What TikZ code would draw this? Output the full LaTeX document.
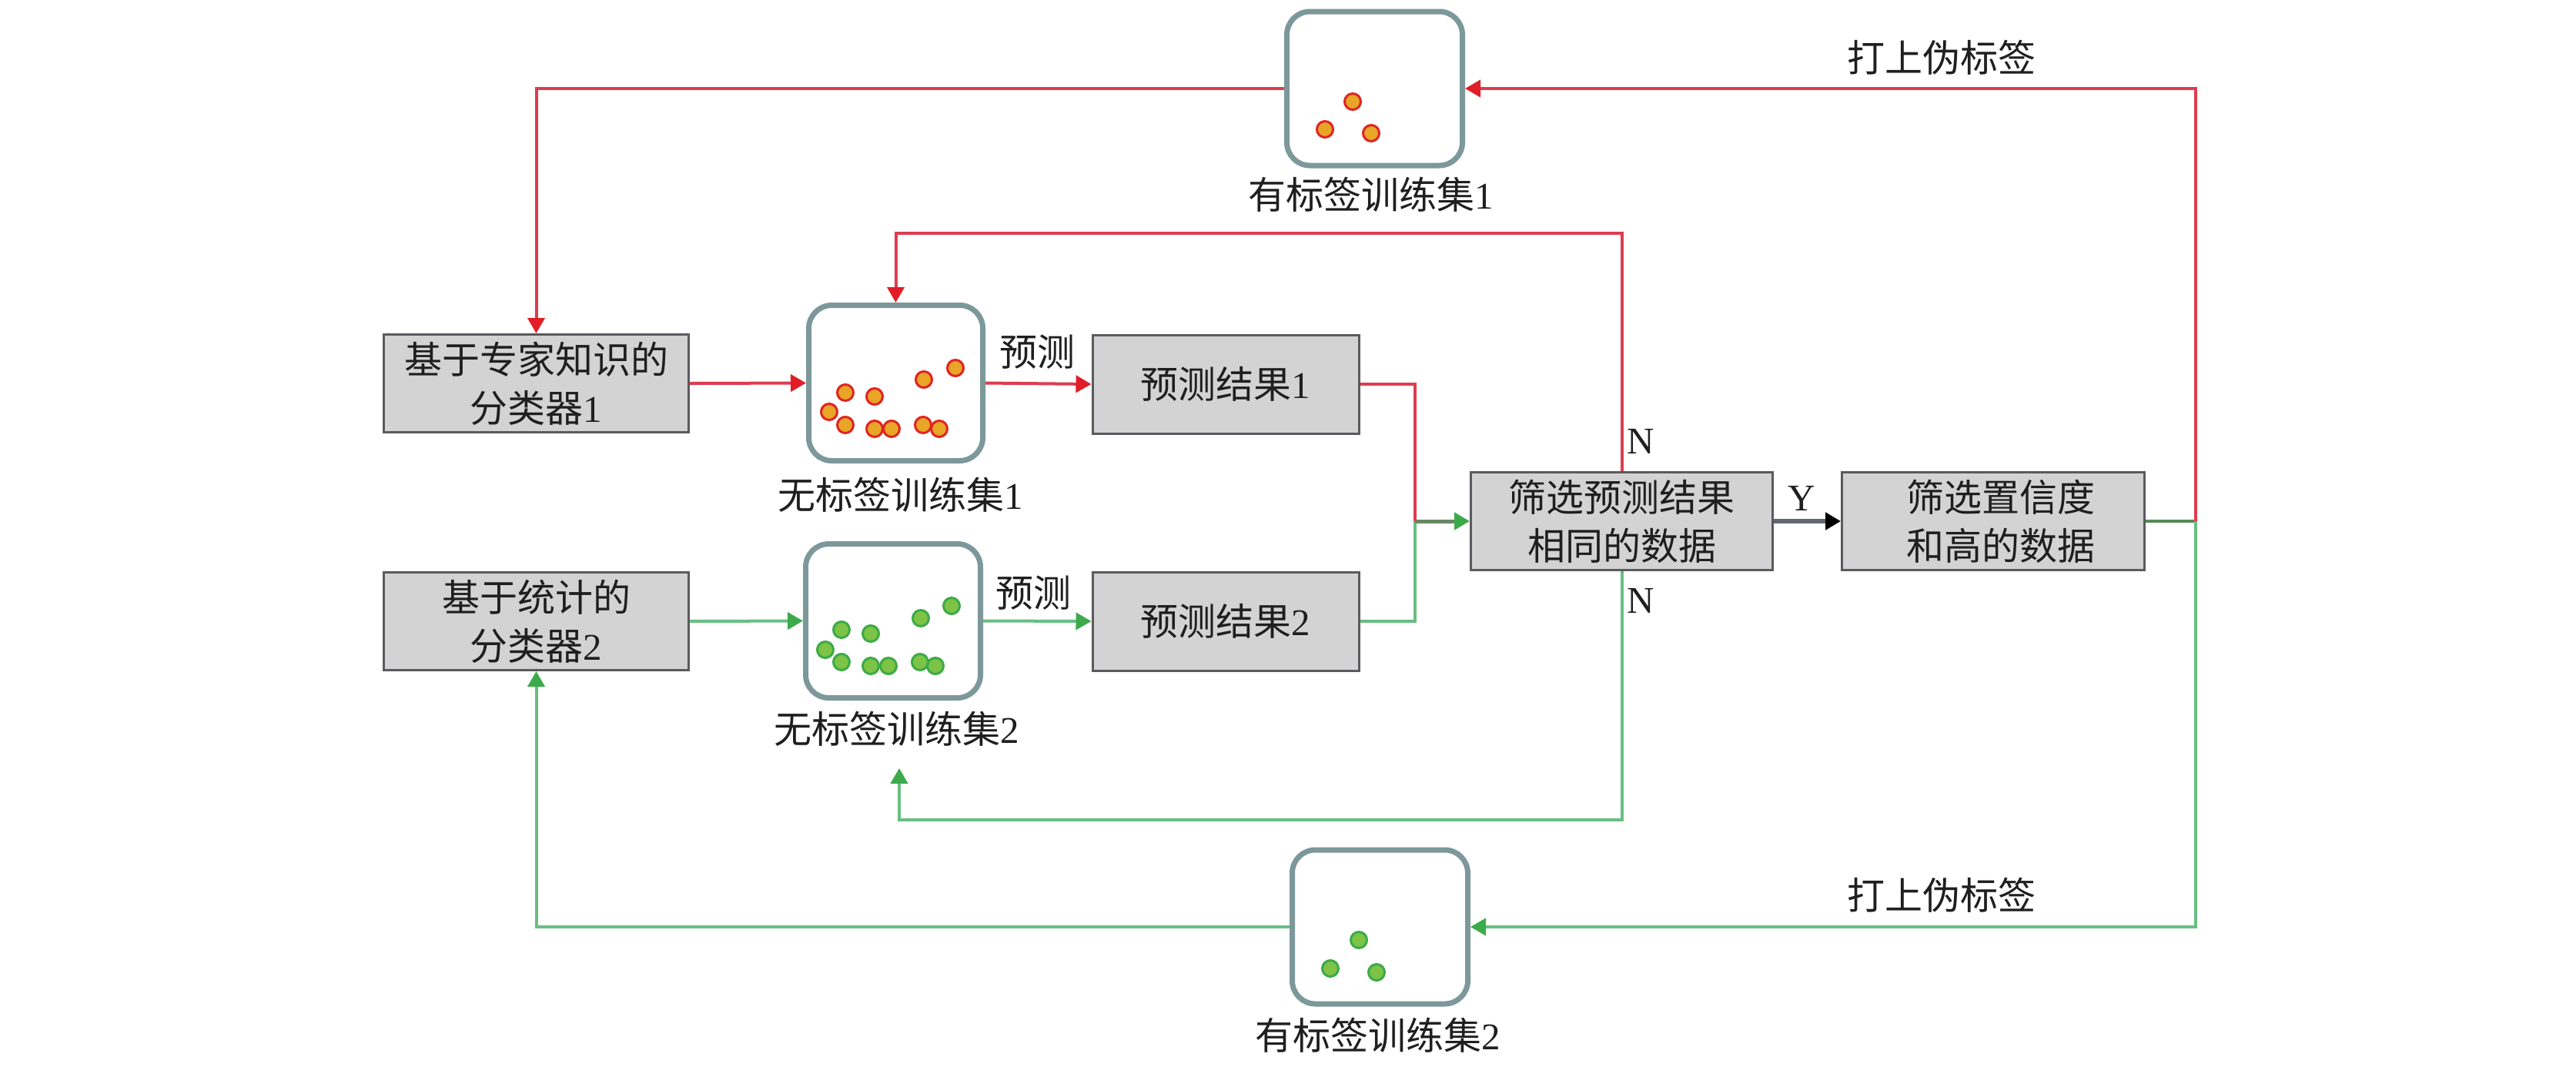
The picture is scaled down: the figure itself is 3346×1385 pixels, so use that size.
\documentclass[tikz,border=0pt]{standalone}
\usepackage{fontspec}
\setmainfont{Liberation Serif}
\newfontfamily\cjk{Noto Sans CJK SC}
\usetikzlibrary{arrows.meta}
\newcommand\zh[1]{{\cjk #1}}
\definecolor{redline}{RGB}{222,60,80}
\definecolor{redtip}{RGB}{225,30,40}
\definecolor{greenline}{RGB}{105,190,130}
\definecolor{greentip}{RGB}{60,170,75}
\definecolor{mergeline}{RGB}{105,135,100}
\definecolor{confline}{RGB}{85,140,85}
\definecolor{yline}{RGB}{100,105,112}
\definecolor{boxteal}{RGB}{125,152,155}
\definecolor{boxgray}{RGB}{211,211,211}
\definecolor{boxedge}{RGB}{90,90,95}
\definecolor{dotorange}{RGB}{232,165,40}
\definecolor{dotred}{RGB}{225,35,35}
\definecolor{dotgreen}{RGB}{125,195,70}
\definecolor{dotgreenedge}{RGB}{60,170,70}
\begin{document}
\begin{tikzpicture}[x=1pt,y=-1pt,
  txt/.style={font=\fontsize{49}{63}\selectfont, text=black!88, inner sep=0pt},
  gbox/.style={txt, draw=boxedge, line width=3pt, fill=boxgray, align=center},
  sbox/.style={draw=boxteal, line width=7pt, rounded corners=30pt, fill=white,
    minimum width=228pt, minimum height=200pt, inner sep=0pt},
  rline/.style={draw=redline, line width=4pt},
  gline/.style={draw=greenline, line width=4pt},
  rtip/.style={-{Triangle[length=20pt,width=22pt,color=redtip]}},
  gtip/.style={-{Triangle[length=20pt,width=22pt,color=greentip]}},
  ktip/.style={-{Triangle[length=20pt,width=22pt,color=black]}},
  rdot/.style={fill=dotorange, draw=dotred, line width=3pt},
  gdot/.style={fill=dotgreen, draw=dotgreenedge, line width=3pt}
]
\fill[white] (0,0) rectangle (3346,1385);
\useasboundingbox (0,0) rectangle (3346,1385);

% gray boxes
\node[gbox, minimum width=396pt, minimum height=127pt] (C1) at (696.5,498) {\zh{基于专家知识的}\\\zh{分类器}1};
\node[gbox, minimum width=396pt, minimum height=127pt] (C2) at (696.5,807) {\zh{基于统计的}\\\zh{分类器}2};
\node[gbox, minimum width=346pt, minimum height=128pt] (P1) at (1592,499) {\zh{预测结果}1};
\node[gbox, minimum width=346pt, minimum height=128pt] (P2) at (1592,807) {\zh{预测结果}2};
\node[gbox, minimum width=392pt, minimum height=127pt] (F) at (2106.5,677) {\zh{筛选预测结果}\\\zh{相同的数据}};
\node[gbox, minimum width=393pt, minimum height=127pt] (Conf) at (2589,677) {\hspace*{20pt}\zh{筛选置信度}\\\hspace*{20pt}\zh{和高的数据}};

% rounded sample boxes
\node[sbox] (L1) at (1785.5,115) {};
\node[sbox] (L2) at (1792.5,1204) {};
\node[sbox, minimum width=226pt, minimum height=202pt] (U1) at (1163.5,497.5) {};
\node[sbox, minimum width=227pt, minimum height=200pt] (U2) at (1160,806.5) {};

% dots
\begin{scope}[shift={(U1.center)}]
\foreach \dx/\dy in {77.5/-19.5, 36.5/-4.5, -65.5/12.5, -27.5/17.5, -86.5/37.5, -65.5/54.5, -27.5/59.5, -5.5/59.5, 35.5/54.5, 56.5/59.5}
  \draw[rdot] (\dx,\dy) circle[radius=10.5pt];
\end{scope}
\begin{scope}[shift={(U2.center)}]
\foreach \dx/\dy in {76/-19.5, 36/-3.5, -67/11.5, -29/16.5, -88/37.5, -67/53.5, -29/58.5, -6/58.5, 35/53.5, 55/58.5}
  \draw[gdot] (\dx,\dy) circle[radius=10.5pt];
\end{scope}
\begin{scope}[shift={(L1.center)}]
\foreach \dx/\dy in {-28.5/17, -64.5/53, -4.5/58}
  \draw[rdot] (\dx,\dy) circle[radius=10.5pt];
\end{scope}
\begin{scope}[shift={(L2.center)}]
\foreach \dx/\dy in {-27.5/17, -64.5/54, -4.5/59}
  \draw[gdot] (\dx,\dy) circle[radius=10.5pt];
\end{scope}

% labels
\node[txt] (tL1) at (1781,253) {\zh{有标签训练集}1};
\node[txt] (tU1) at (1170,643) {\zh{无标签训练集}1};
\node[txt] (tU2) at (1165,947) {\zh{无标签训练集}2};
\node[txt] (tL2) at (1790,1345) {\zh{有标签训练集}2};
\node[txt] (pl1) at (1347,457) {\zh{预测}};
\node[txt] (pl2) at (1342,770) {\zh{预测}};
\node[txt] (n1) at (2131,573) {N};
\node[txt] (n2) at (2131,780) {N};
\node[txt] (ylab) at (2340,647) {Y};
\node[txt] (ps1) at (2522,75) {\zh{打上伪标签}};
\node[txt] (ps2) at (2522,1163) {\zh{打上伪标签}};

% coordinates
\coordinate (M) at (1838,677);
\coordinate (J) at (2852,677);
\coordinate (NR) at (2107,303);
\coordinate (NG) at (2107,1065);

% connectors
\draw[rline, rtip] (L1.west) -| (C1.north);
\draw[gline, gtip] (L2.west) -| (C2.south);
\draw[rline, rtip] (C1.east) -- (U1.west);
\draw[gline, gtip] (C2.east) -- (U2.west);
\draw[rline, rtip] (U1.east) -- (P1.west);
\draw[gline, gtip] (U2.east) -- (P2.west);
\draw[rline] (P1.east) -| (M);
\draw[gline] (P2.east) -| (M);
\draw[draw=mergeline, line width=5pt, gtip] (M) -- (F.west);
\draw[rline, rtip] (F.north) -- (F.north |- NR) -| (U1.north);
\draw[gline, gtip] (F.south) -- (F.south |- NG) -| ([xshift=3pt,yshift=-28pt]tU2.south);
\draw[draw=yline, line width=6pt, ktip] (F.east) -- (Conf.west);
\draw[draw=confline, line width=4pt] (Conf.east) -- (J);
\draw[rline, rtip] (J) |- (L1.east);
\draw[gline, gtip] (J) |- (L2.east);
\end{tikzpicture}
\end{document}
